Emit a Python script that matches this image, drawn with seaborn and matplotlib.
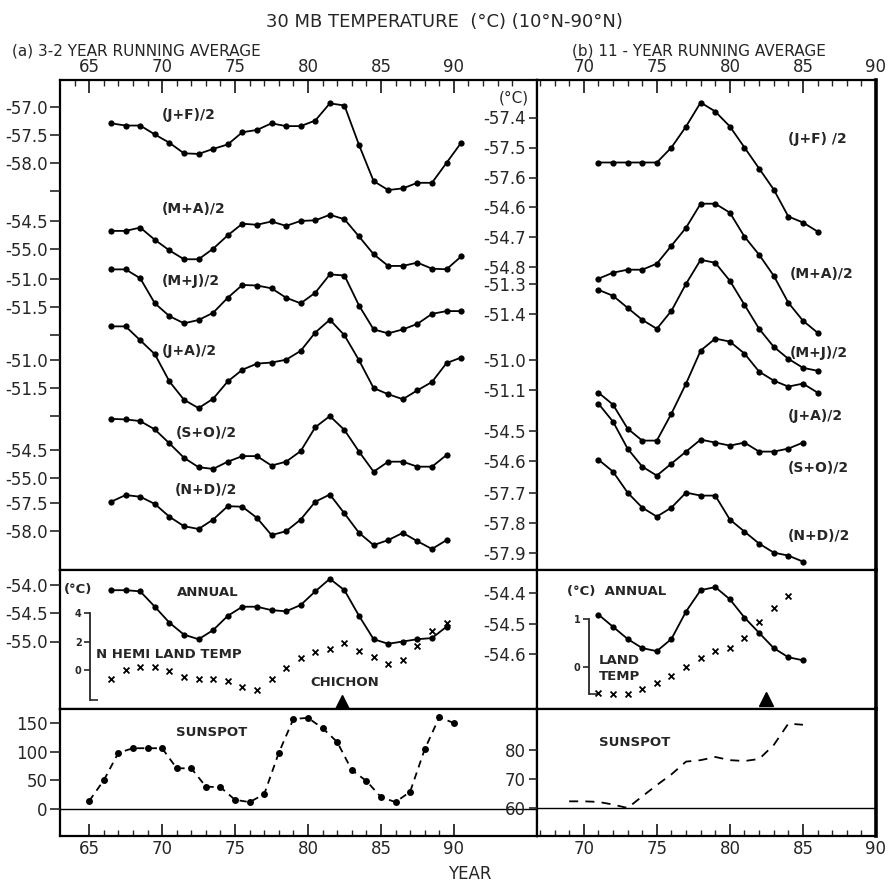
import matplotlib
matplotlib.use('Agg')
import matplotlib.pyplot as plt
import seaborn as sns

sns.set_style('ticks')
plt.rcParams['font.family'] = ['DejaVu Sans']

# ---------------- data: (a) 3-2 year running average ----------------
years_a = [66.5, 67.5, 68.5, 69.5, 70.5, 71.5, 72.5, 73.5, 74.5, 75.5, 76.5, 77.5,
           78.5, 79.5, 80.5, 81.5, 82.5, 83.5, 84.5, 85.5, 86.5, 87.5, 88.5, 89.5, 90.5]
years_a24 = years_a[:24]

jf_a = [-57.29, -57.33, -57.33, -57.49, -57.64, -57.83, -57.84, -57.75, -57.67, -57.45,
        -57.41, -57.29, -57.34, -57.34, -57.24, -56.93, -56.97, -57.68, -58.33, -58.49,
        -58.46, -58.36, -58.36, -58.00, -57.64]
ma_a = [-54.68, -54.68, -54.62, -54.84, -55.03, -55.19, -55.19, -55.00, -54.76, -54.55,
        -54.57, -54.51, -54.59, -54.50, -54.49, -54.39, -54.47, -54.78, -55.10, -55.31,
        -55.31, -55.25, -55.36, -55.37, -55.14]
mj_a = [-50.82, -50.82, -50.98, -51.43, -51.66, -51.79, -51.73, -51.60, -51.33, -51.10,
        -51.11, -51.16, -51.33, -51.43, -51.24, -50.91, -50.93, -51.47, -51.90, -51.97,
        -51.90, -51.80, -51.62, -51.57, -51.57]
ja_a = [-50.39, -50.39, -50.64, -50.89, -51.38, -51.71, -51.86, -51.69, -51.38, -51.17,
        -51.06, -51.04, -50.99, -50.83, -50.50, -50.27, -50.55, -51.00, -51.50, -51.61,
        -51.70, -51.54, -51.39, -51.05, -50.95]
so_a = [-53.94, -53.95, -53.98, -54.13, -54.38, -54.64, -54.81, -54.84, -54.71, -54.61,
        -54.61, -54.78, -54.71, -54.52, -54.09, -53.89, -54.14, -54.53, -54.89, -54.71,
        -54.71, -54.80, -54.80, -54.59]
nd_a = [-57.47, -57.35, -57.38, -57.51, -57.74, -57.91, -57.96, -57.79, -57.55, -57.56,
        -57.76, -58.07, -58.00, -57.79, -57.47, -57.34, -57.68, -58.03, -58.25, -58.16,
        -58.03, -58.18, -58.32, -58.16]
annual_a = [-54.10, -54.10, -54.12, -54.39, -54.67, -54.88, -54.96, -54.80, -54.55, -54.39,
            -54.39, -54.45, -54.47, -54.36, -54.12, -53.90, -54.10, -54.55, -54.96, -55.04,
            -55.00, -54.96, -54.94, -54.74]
land_a = [-0.65, 0.00, 0.19, 0.19, -0.10, -0.53, -0.65, -0.65, -0.82, -1.20, -1.45, -0.65,
          0.12, 0.80, 1.28, 1.45, 1.88, 1.35, 0.87, 0.43, 0.67, 1.69, 2.72, 3.33]
sun_years_a = [65, 66, 67, 68, 69, 70, 71, 72, 73, 74, 75, 76, 77, 78, 79, 80, 81, 82,
               83, 84, 85, 86, 87, 88, 89, 90]
sunspot_a = [14, 50, 98, 106, 106, 106, 71, 71, 39, 38, 16, 12, 26, 98, 157, 159, 141,
             117, 68, 49, 21, 12, 30, 104, 160, 150]

# ---------------- data: (b) 11-year running average ----------------
years_b = [71, 72, 73, 74, 75, 76, 77, 78, 79, 80, 81, 82, 83, 84, 85, 86]
years_b15 = years_b[:15]
years_b14 = years_b[:14]

jf_b = [-57.55, -57.55, -57.55, -57.55, -57.55, -57.50, -57.43, -57.35, -57.38, -57.43,
        -57.50, -57.57, -57.64, -57.73, -57.75, -57.78]
ma_b = [-54.84, -54.82, -54.81, -54.81, -54.79, -54.73, -54.67, -54.59, -54.59, -54.62,
        -54.70, -54.76, -54.83, -54.92, -54.98, -55.02]
mj_b = [-51.32, -51.34, -51.38, -51.42, -51.45, -51.39, -51.30, -51.22, -51.23, -51.29,
        -51.37, -51.45, -51.51, -51.55, -51.58, -51.59]
ja_b = [-51.11, -51.15, -51.23, -51.27, -51.27, -51.18, -51.08, -50.97, -50.93, -50.94,
        -50.98, -51.04, -51.07, -51.09, -51.08, -51.11]
so_b = [-54.41, -54.47, -54.56, -54.62, -54.65, -54.61, -54.57, -54.53, -54.54, -54.55,
        -54.54, -54.57, -54.57, -54.56, -54.54]
nd_b = [-57.59, -57.63, -57.70, -57.75, -57.78, -57.75, -57.70, -57.71, -57.71, -57.79,
        -57.83, -57.87, -57.90, -57.91, -57.93]
annual_b = [-54.47, -54.51, -54.55, -54.58, -54.59, -54.55, -54.46, -54.39, -54.38, -54.42,
            -54.48, -54.53, -54.58, -54.61, -54.62]
land_b = [-0.56, -0.57, -0.57, -0.47, -0.35, -0.19, 0.00, 0.18, 0.32, 0.39, 0.60, 0.93,
          1.22, 1.47]
sun_years_b = [69, 70, 71, 72, 73, 74, 75, 76, 77, 78, 79, 80, 81, 82, 83, 84, 85]
sunspot_b = [62.3, 62.3, 62.1, 61.2, 60.0, 64.0, 67.9, 71.6, 76.0, 76.5, 77.6, 76.5,
             76.2, 76.9, 81.7, 89.1, 88.7]

# ---------------- layout (pixels of the 888x886 picture) ----------------
W, H = 888, 886
LX0, MID, RX1 = 60, 537, 876
TOP, SEP1, SEP2, BOT = 80, 570, 709, 836
XLIM_A = (63.0, 95.7)
XLIM_B = (66.8, 90.0)

fig = plt.figure(figsize=(W / 100, H / 100), dpi=100)


def rect(x0, y0, x1, y1):
    return [x0 / W, 1 - y1 / H, (x1 - x0) / W, (y1 - y0) / H]


def ylims(val, px, per_px, top, bot):
    return (val - (bot - px) * per_px, val + (px - top) * per_px)


def frame(x0, y0, x1, y1, xlim, right_lw=1.6):
    ax = fig.add_axes(rect(x0, y0, x1, y1))
    ax.set_xlim(xlim)
    ax.set_ylim(0, 1)
    ax.set_xticks([])
    ax.set_yticks([])
    for s in ax.spines.values():
        s.set_linewidth(1.6)
        s.set_color('k')
    ax.spines['right'].set_linewidth(right_lw)
    return ax


def year_axis(ax, majors, minors, where):
    ax.xaxis.set_ticks_position(where)
    ax.set_xticks(majors)
    ax.set_xticklabels([str(m) for m in majors])
    ax.set_xticks(minors, minor=True)
    ax.tick_params(axis='x', which='major', direction='in', length=9, width=1.3,
                   labelsize=12, pad=3)
    ax.tick_params(axis='x', which='minor', direction='in', length=4, width=1.0)


def overlay(x0, y0, x1, y1, xlim, ylim, ticks, labels, tlen=7):
    ax = fig.add_axes(rect(x0, y0, x1, y1))
    ax.patch.set_visible(False)
    for s in ax.spines.values():
        s.set_visible(False)
    ax.set_xticks([])
    ax.set_yticks(ticks)
    ax.set_yticklabels(labels)
    ax.tick_params(axis='y', direction='out', length=tlen, width=1.2, labelsize=12, pad=2)
    ax.set_xlim(xlim)
    ax.set_ylim(ylim)
    return ax


def lab(v):
    return f"{v:.1f}"


def curve(ax, x, y):
    sns.lineplot(x=x, y=y, ax=ax, color='black', marker='o', markersize=4.5,
                 markeredgewidth=0, linewidth=1.3)


def ftext(x, y, s, size=10, weight='bold', ha='left'):
    fig.text(x / W, 1 - y / H, s, ha=ha, va='center', fontsize=size, fontweight=weight)


# ---------------- frames ----------------
fa_up = frame(LX0, TOP, MID, SEP1, XLIM_A)
fa_an = frame(LX0, SEP1, MID, SEP2, XLIM_A)
fa_ss = frame(LX0, SEP2, MID, BOT, XLIM_A)
fb_up = frame(MID, TOP, RX1, SEP1, XLIM_B, right_lw=2.6)
fb_an = frame(MID, SEP1, RX1, SEP2, XLIM_B, right_lw=2.6)
fb_ss = frame(MID, SEP2, RX1, BOT, XLIM_B, right_lw=2.6)

year_axis(fa_up, [65, 70, 75, 80, 85, 90], list(range(64, 95)), 'top')
year_axis(fb_up, [70, 75, 80, 85, 90], list(range(67, 91)), 'top')
year_axis(fa_ss, [65, 70, 75, 80, 85, 90], list(range(65, 91)), 'bottom')
year_axis(fb_ss, [70, 75, 80, 85, 90], list(range(67, 91)), 'bottom')

# ---------------- (a) upper panel: one scale per season ----------------
PX_A = 0.5 / 27.8
series_a = [
    (jf_a, years_a, -57.0, 107.2, [-57.0, -57.5, -58.0, -58.5], 3, '(J+F)/2', (162, 115)),
    (ma_a, years_a, -54.5, 220.9, [-54.5, -55.0], 2, '(M+A)/2', (162, 209)),
    (mj_a, years_a, -51.0, 279.4, [-51.0, -51.5, -52.0], 2, '(M+J)/2', (162, 281)),
    (ja_a, years_a, -51.0, 360.3, [-51.0, -51.5, -52.0], 2, '(J+A)/2', (162, 351)),
    (so_a, years_a24, -54.5, 450.0, [-54.5, -55.0], 2, '(S+O)/2', (176, 433)),
    (nd_a, years_a24, -57.5, 503.4, [-57.5, -58.0], 2, '(N+D)/2', (175, 490)),
]
for vals, yrs, aval, apx, ticks, nlab, name, (tx, ty) in series_a:
    labels = [lab(t) if i < nlab else '' for i, t in enumerate(ticks)]
    ax = overlay(LX0, TOP, MID, SEP1, XLIM_A, ylims(aval, apx, PX_A, TOP, SEP1),
                 ticks, labels)
    curve(ax, yrs, vals)
    ax.set_xlim(XLIM_A)
    ax.set_ylim(ylims(aval, apx, PX_A, TOP, SEP1))
    ftext(tx, ty, name)

# ---------------- (b) upper panel ----------------
PX_B = 0.1 / 30.0
series_b = [
    (jf_b, years_b, -57.4, 117.5, [-57.4, -57.5, -57.6], '(J+F) /2', (788, 139)),
    (ma_b, years_b, -54.6, 206.7, [-54.6, -54.7, -54.8], '(M+A)/2', (790, 274)),
    (mj_b, years_b, -51.3, 283.8, [-51.3, -51.4], '(M+J)/2', (790, 353)),
    (ja_b, years_b, -51.0, 359.6, [-51.0, -51.1], '(J+A)/2', (788, 416)),
    (so_b, years_b15, -54.5, 430.6, [-54.5, -54.6], '(S+O)/2', (788, 468)),
    (nd_b, years_b15, -57.7, 492.6, [-57.7, -57.8, -57.9], '(N+D)/2', (788, 536)),
]
for vals, yrs, aval, apx, ticks, name, (tx, ty) in series_b:
    yl = ylims(aval, apx, PX_B, TOP, SEP1)
    ax = overlay(MID, TOP, RX1, SEP1, XLIM_B, yl, ticks, [lab(t) for t in ticks], tlen=6)
    curve(ax, yrs, vals)
    ax.set_xlim(XLIM_B)
    ax.set_ylim(yl)
    ftext(tx, ty, name)
ftext(514, 98, '(°C)', size=11, weight='normal', ha='center')

# ---------------- annual panels ----------------
yl = ylims(-54.5, 613.0, 0.5 / 28.5, SEP1, SEP2)
ax = overlay(LX0, SEP1, MID, SEP2, XLIM_A, yl, [-54.0, -54.5, -55.0],
             ['-54.0', '-54.5', '-55.0'])
curve(ax, years_a24, annual_a)
ax.set_xlim(XLIM_A)
ax.set_ylim(yl)
ax.plot([82.3], [0.05], marker='^', color='k', markersize=10,
        transform=ax.get_xaxis_transform())

yl = ylims(0.0, 669.6, 1 / 14.1, SEP1, SEP2)
ax = overlay(LX0, SEP1, MID, SEP2, XLIM_A, yl, [], [])
sns.scatterplot(x=years_a24, y=land_a, ax=ax, marker='x', s=18, color='k', linewidth=1.3)
ax.set_xlim(XLIM_A)
ax.set_ylim(yl)

# little bracket scale for the land temperature (left)
br = fig.add_axes(rect(90, 613.4, 98, 699.5))
br.patch.set_visible(False)
for k in ['top', 'right', 'bottom']:
    br.spines[k].set_visible(False)
br.spines['left'].set_linewidth(1.3)
br.set_xticks([])
br.set_ylim(-2.1, 4.0)
br.set_yticks([0, 2, 4])
br.set_yticklabels(['0', '2', '4'])
br.set_yticks([-2.1, 4.0], minor=True)
br.tick_params(axis='y', which='major', direction='out', length=4, width=1.2,
               labelsize=7, pad=2)
br.tick_params(axis='y', which='minor', direction='in', length=6, width=1.2)
for t in br.get_yticklabels():
    t.set_fontweight('bold')

yl = ylims(-54.5, 623.7, 0.1 / 30.5, SEP1, SEP2)
ax = overlay(MID, SEP1, RX1, SEP2, XLIM_B, yl, [-54.4, -54.5, -54.6],
             ['-54.4', '-54.5', '-54.6'], tlen=6)
curve(ax, years_b15, annual_b)
ax.set_xlim(XLIM_B)
ax.set_ylim(yl)
ax.plot([82.5], [0.07], marker='^', color='k', markersize=10,
        transform=ax.get_xaxis_transform())

yl = ylims(0.0, 666.6, 1 / 47.9, SEP1, SEP2)
ax = overlay(MID, SEP1, RX1, SEP2, XLIM_B, yl, [], [])
sns.scatterplot(x=years_b14, y=land_b, ax=ax, marker='x', s=18, color='k', linewidth=1.3)
ax.set_xlim(XLIM_B)
ax.set_ylim(yl)

br = fig.add_axes(rect(589, 618.7, 597, 694))
br.patch.set_visible(False)
for k in ['top', 'right', 'bottom']:
    br.spines[k].set_visible(False)
br.spines['left'].set_linewidth(1.3)
br.set_xticks([])
br.set_ylim(-0.57, 1.0)
br.set_yticks([0, 1])
br.set_yticklabels(['0', '1'])
br.set_yticks([-0.57, 1.0], minor=True)
br.tick_params(axis='y', which='major', direction='out', length=4, width=1.2,
               labelsize=7, pad=2)
br.tick_params(axis='y', which='minor', direction='in', length=6, width=1.2)
for t in br.get_yticklabels():
    t.set_fontweight('bold')

ftext(64, 590, '(°C)', size=9.5)
ftext(177, 592, 'ANNUAL', size=9.5)
ftext(96, 654, 'N HEMI LAND TEMP', size=9.5)
ftext(310, 682, 'CHICHON', size=9.5)
ftext(567, 592, '(°C)  ANNUAL', size=9.5)
ftext(599, 660, 'LAND', size=9.5)
ftext(599, 677, 'TEMP', size=9.5)

# ---------------- sunspot panels ----------------
yl = ylims(0.0, 809.0, 1 / 0.5733, SEP2, BOT)
ax = overlay(LX0, SEP2, MID, BOT, XLIM_A, yl, [0, 50, 100, 150],
             ['0', '50', '100', '150'])
sns.lineplot(x=sun_years_a, y=sunspot_a, ax=ax, color='black', marker='o',
             markersize=5, markeredgewidth=0, linewidth=1.3, linestyle=(0, (4, 3)))
ax.axhline(0, color='k', linewidth=1.0)
ax.set_xlim(XLIM_A)
ax.set_ylim(yl)

yl = ylims(60.0, 808.0, 1 / 2.9, SEP2, BOT)
ax = overlay(MID, SEP2, RX1, BOT, XLIM_B, yl, [60, 70, 80], ['60', '70', '80'], tlen=6)
sns.lineplot(x=sun_years_b, y=sunspot_b, ax=ax, color='black', linewidth=1.3,
             linestyle=(0, (5, 4)))
ax.axhline(60, color='k', linewidth=1.0)
ax.set_xlim(XLIM_B)
ax.set_ylim(yl)

ftext(176, 733, 'SUNSPOT', size=9.5)
ftext(599, 743, 'SUNSPOT', size=9.5)

# ---------------- titles ----------------
ftext(444, 22, '30 MB TEMPERATURE  (°C) (10°N-90°N)', size=13, weight='normal', ha='center')
ftext(12, 51, '(a) 3-2 YEAR RUNNING AVERAGE', size=11, weight='normal')
ftext(572, 51, '(b) 11 - YEAR RUNNING AVERAGE', size=11, weight='normal')
ftext(470, 874, 'YEAR', size=12, weight='normal', ha='center')

fig.savefig('out.png', dpi=100)
